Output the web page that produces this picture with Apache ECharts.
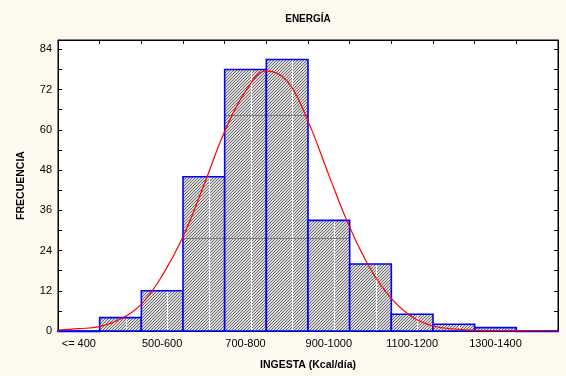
<!DOCTYPE html>
<html><head><meta charset="utf-8">
<script src="https://cdn.jsdelivr.net/npm/echarts@6/dist/echarts.min.js"></script>
<style>html,body{margin:0;padding:0;background:#fdf9ef}#c{width:566px;height:376px}</style>
</head><body><div id="c"></div>
<script>
// ---- data ----
const categories = ["<= 400","400-500","500-600","600-700","700-800","800-900","900-1000","1000-1100","1100-1200","1200-1300","1300-1400","> 1400"];
const frequencies = [0, 4, 12, 46, 78, 81, 33, 20, 5, 2, 1, 0];
// fitted curve (x in kcal, y in frequency)
const curveKcal = [300, 350, 400, 450, 500, 550, 600, 650, 700, 750, 800, 850, 900, 950, 1000, 1050, 1100, 1150, 1200, 1250, 1300, 1400, 1500];
const curveFreq = [0.3, 0.7, 1.3, 3.6, 8.0, 16.5, 28.1, 43.5, 59.5, 71.5, 77.6, 74.5, 62.6, 46.5, 31.0, 18.5, 9.7, 4.2, 1.5, 0.6, 0.2, 0.05, 0];
const kcalRange = [300, 1500];
const yRange = [0, 86.8];
// faint internal reference lines seen inside the bars
const innerLevels = [27.6, 64.4];

// ---- styles ----
const FONT = 'Liberation Sans';
function hatch() {
  const n = 3;
  const c = document.createElement('canvas'); c.width = n; c.height = n;
  const ctx = c.getContext('2d');
  const img = ctx.createImageData(n, n);
  for (let y = 0; y < n; y++) for (let x = 0; x < n; x++) {
    const dark = ((x + y) % n === 0);
    const g = dark ? 0x6a : 0xdc;
    const k = (y * n + x) * 4;
    img.data[k] = g; img.data[k+1] = g; img.data[k+2] = g; img.data[k+3] = 255;
  }
  ctx.putImageData(img, 0, 0);
  return c;
}
const pattern = { image: hatch(), repeat: 'repeat' };

const chart = echarts.init(document.getElementById('c'), null, { renderer: 'canvas' });
chart.setOption({
  backgroundColor: '#fdf9ef',
  animation: false,
  textStyle: { fontFamily: FONT },
  graphic: [{
    type: 'text', x: 308, y: 19,
    style: { text: 'ENERGÍA', font: 'bold 10px "Liberation Sans"', fill: '#000', textAlign: 'center', textVerticalAlign: 'middle' }
  }],
  grid: { left: 58, right: 8, top: 40, bottom: 45, show: true, backgroundColor: '#fff', borderColor: '#000', borderWidth: 1 },
  xAxis: [{
    type: 'category', data: categories, position: 'bottom', boundaryGap: true,
    axisLine: { lineStyle: { color: '#000', width: 1 } },
    axisTick: { inside: true, length: 4, interval: 0, lineStyle: { color: '#000' } },
    axisLabel: { interval: 1, color: '#000', fontSize: 11, margin: 7, fontFamily: FONT },
    splitLine: { show: false },
    name: 'INGESTA (Kcal/día)', nameLocation: 'middle', nameGap: 29,
    nameTextStyle: { fontWeight: 'bold', fontSize: 10.5, color: '#000', fontFamily: FONT }
  }, {
    type: 'value', position: 'top', min: kcalRange[0], max: kcalRange[1], interval: 100,
    axisLine: { onZero: false, lineStyle: { color: '#000', width: 1 } },
    axisTick: { inside: true, length: 4, lineStyle: { color: '#000' } },
    axisLabel: { show: false }, splitLine: { show: false }
  }],
  yAxis: [{
    type: 'value', position: 'left', min: yRange[0], max: yRange[1], interval: 6,
    axisLine: { show: true, onZero: false, lineStyle: { color: '#000', width: 1 } },
    axisTick: { show: true, inside: true, length: 4, lineStyle: { color: '#000' } },
    axisLabel: { color: '#000', fontSize: 11, margin: 6, fontFamily: FONT,
      formatter: v => (Math.abs(v % 12) < 1e-6 ? String(v) : '') },
    splitLine: { show: false },
    name: 'FRECUENCIA', nameLocation: 'middle', nameGap: 31, nameRotate: 90,
    nameTextStyle: { fontWeight: 'bold', fontSize: 10.5, color: '#000', fontFamily: FONT }
  }, {
    type: 'value', position: 'right', min: yRange[0], max: yRange[1], interval: 6,
    axisLine: { show: true, onZero: false, lineStyle: { color: '#000', width: 1 } },
    axisTick: { show: true, inside: true, length: 4, lineStyle: { color: '#000' } },
    axisLabel: { show: false }, splitLine: { show: false }
  }],
  series: [{
    type: 'custom', xAxisIndex: 0, yAxisIndex: 0, z: 2,
    data: frequencies.map((v, i) => [i, v]),
    renderItem: function (params, api) {
      const i = api.value(0), v = api.value(1);
      const top = api.coord([i, v]);
      const base = api.coord([i, 0]);
      const w = api.size([1, 0])[0];
      const x0 = top[0] - w / 2;
      const h = base[1] - top[1];
      const children = [{
        type: 'rect', shape: { x: x0, y: top[1], width: w, height: h },
        style: { fill: pattern, stroke: null }
      }];
      if (h > 2) {
        const xm = Math.round(top[0] + w * 0.12) + 0.5;
        children.push({ type: 'line', shape: { x1: xm, y1: top[1] + 1, x2: xm, y2: base[1] },
          style: { stroke: '#fff', lineWidth: 1 } });
      }
      innerLevels.forEach(l => {
        if (v > l) {
          const yy = Math.round(api.coord([i, l])[1]) + 0.5;
          children.push({ type: 'line', shape: { x1: x0, y1: yy, x2: x0 + w, y2: yy },
            style: { stroke: '#7a7a7a', lineWidth: 1 } });
        }
      });
      children.push({
        type: 'rect', shape: { x: x0, y: top[1], width: w, height: Math.max(h, 0.5) },
        style: { fill: null, stroke: '#0000ff', lineWidth: 1.6 }
      });
      return { type: 'group', children: children };
    }
  }, {
    type: 'line', xAxisIndex: 1, yAxisIndex: 0, z: 5,
    data: curveKcal.map((k, i) => [k, curveFreq[i]]),
    smooth: 0.4, showSymbol: false, symbol: 'none',
    lineStyle: { color: '#ff0000', width: 1.2 }
  }]
});
</script></body></html>
